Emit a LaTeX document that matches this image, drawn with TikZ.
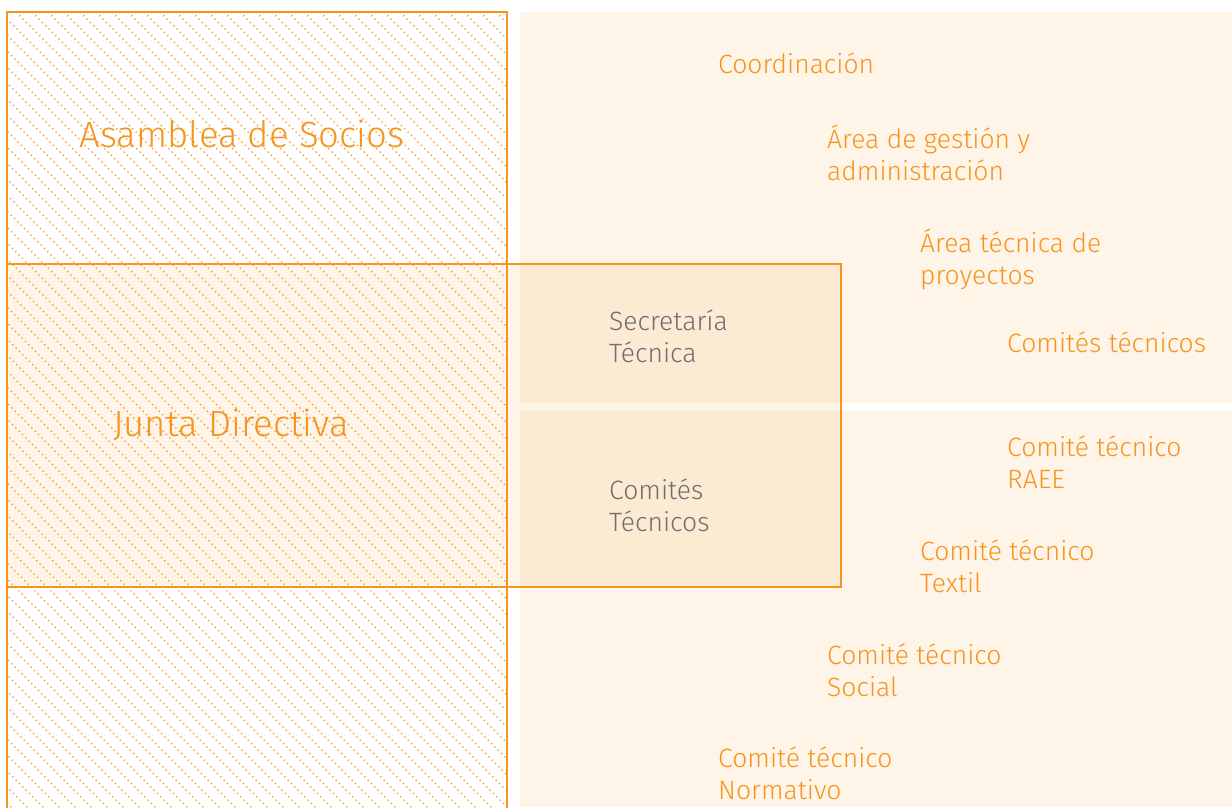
\documentclass[tikz,border=0pt]{standalone}
\usepackage{fontspec}
\setmainfont{Fira Sans Light}
\definecolor{orng}{HTML}{F7941E}
\definecolor{grtxt}{HTML}{6D6E71}
\tikzset{
  lbl/.style={anchor=base west, align=left, inner sep=0pt, text=orng, font=\fontsize{26.5}{32}\selectfont},
  glbl/.style={lbl, text=grtxt},
  big/.style={anchor=base, inner sep=0pt, text=orng, font=\fontsize{36.5}{44}\selectfont},
  edge/.style={draw=orng, line width=2.2pt},
  hatch/.style={draw=orng, line width=1.3pt, dash pattern=on 1.3pt off 3.4pt},
  panel/.style={fill=orng, fill opacity=0.1}
}
\begin{document}
\begin{tikzpicture}[x=1pt,y=-1pt]
\useasboundingbox (0,0) rectangle (1232,807);
\fill[white] (0,0) rectangle (1232,807);
% right panels
\fill[panel] (520,12) rectangle (1232,402.5);
\fill[panel] (520,410.5) rectangle (1232,807);
% hatch
\begin{scope}
\clip (7,12) rectangle (507,807);
\foreach \x in {-800,-784,...,520}{
  \draw[hatch] (\x,12) -- (\x+820,832);
}
\end{scope}
% junta fill
\fill[panel] (7,264) rectangle (841,587);
% borders
\draw[edge] (7,812) -- (7,12) -- (507,12) -- (507,812);
\draw[edge] (7,264) rectangle (841,587);
% big labels
\node[big] (asamblea) at (242,147) {Asamblea de Socios};
\node[big] (junta) at (231,436) {Junta Directiva};
% gray (anchored at baseline of the last line)
\node[glbl] (secre) at (609,362) {Secretaría\\Técnica};
\node[glbl] (comtec) at (609,531) {Comités\\Técnicos};
% right labels
\node[lbl] (coord) at (718,73) {Coordinación};
\node[lbl] (gestion) at (827,180) {Área de gestión y\\administración};
\node[lbl] (proy) at (920,284) {Área técnica de\\proyectos};
\node[lbl] (comites) at (1007,352) {Comités técnicos};
\node[lbl] (raee) at (1007,488) {Comité técnico\\RAEE};
\node[lbl] (textil) at (920,592) {Comité técnico\\Textil};
\node[lbl] (social) at (827,696) {Comité técnico\\Social};
\node[lbl] (norm) at (718,799) {Comité técnico\\Normativo};
\end{tikzpicture}
\end{document}
